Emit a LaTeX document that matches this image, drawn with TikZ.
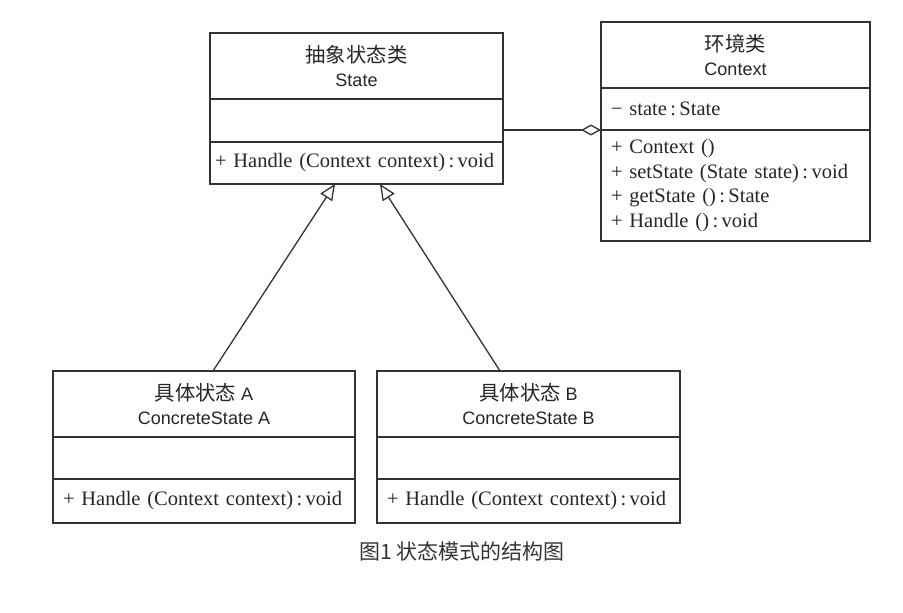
\documentclass[tikz,border=0pt]{standalone}
\usepackage{fontspec}
\setmainfont{Liberation Serif}
\setsansfont{Liberation Sans}
\newfontfamily\cjk[Scale=1.13]{Noto Sans CJK SC}
\newfontfamily\capfont{Noto Sans CJK SC}
\usetikzlibrary{arrows.meta, positioning}

\tikzset{
  box/.style={draw=black!80, line width=1.5pt, outer sep=0pt, inner xsep=10pt, inner ysep=0pt, text=black!85},
  hdr/.style={box, anchor=north, align=center, minimum height=66pt, font=\sffamily\fontsize{18}{23.5}\selectfont},
  mem/.style={box, align=left, font=\fontsize{20.5}{24.5}\selectfont},
  inherit/.style={-{Triangle[open, length=16pt, width=14pt]}, line width=1.3pt, draw=black!80},
  aggr/.style={{Diamond[open, length=20pt, width=11pt]}-, line width=1.3pt, draw=black!80}
}

\begin{document}
\begin{tikzpicture}[x=1pt, y=1pt]
  \useasboundingbox (0,0) rectangle (903,613);
  % abstract state
  \node (st) [hdr, minimum width=293pt] at (356.5,580) {{\cjk 抽象状态类}\\State};
  \node (stAttr) [mem, minimum width=293pt, minimum height=43pt, below=0pt of st] {};
  \node (stOps) [mem, inner xsep=5pt, text width=283pt, minimum height=42pt, below=0pt of stAttr] {+ Handle (Context context)\,:\,void};
  % context
  \node (ctx) [hdr, minimum width=269pt] at (735.5,591) {{\cjk 环境类}\\Context};
  \node (ctxAttr) [mem, text width=249pt, minimum height=42pt, below=0pt of ctx] {− state\,:\,State};
  \node (ctxOps) [mem, text width=249pt, minimum height=111pt, below=0pt of ctxAttr] {+ Context ()\\+ setState (State state)\,:\,void\\+ getState ()\,:\,State\\+ Handle ()\,:\,void};
  % concrete states
  \node (cA) [hdr, minimum width=302pt] at (204,242) {{\cjk 具体状态} A\\ConcreteState A};
  \node (cAAttr) [mem, minimum width=302pt, minimum height=42pt, below=0pt of cA] {};
  \node (cAOps) [mem, text width=282pt, minimum height=44pt, below=0pt of cAAttr] {+ Handle (Context context)\,:\,void};
  \node (cB) [hdr, minimum width=303pt, right=22pt of cA] {{\cjk 具体状态} B\\ConcreteState B};
  \node (cBAttr) [mem, minimum width=303pt, minimum height=42pt, below=0pt of cB] {};
  \node (cBOps) [mem, text width=283pt, minimum height=44pt, below=0pt of cBAttr] {+ Handle (Context context)\,:\,void};
  % connectors
  \draw [inherit] ([xshift=9pt]cA.north) -- ([xshift=-21.5pt]stOps.south);
  \draw [inherit] ([xshift=-28.5pt]cB.north) -- ([xshift=23.5pt]stOps.south);
  \draw [aggr] (ctxOps.north west) -- (ctxOps.north west -| stAttr.east);
  % caption
  \node (cap) [text=black!80, font=\capfont\fontsize{21}{24}\selectfont] at (462,61) {图1 状态模式的结构图};
\end{tikzpicture}
\end{document}
